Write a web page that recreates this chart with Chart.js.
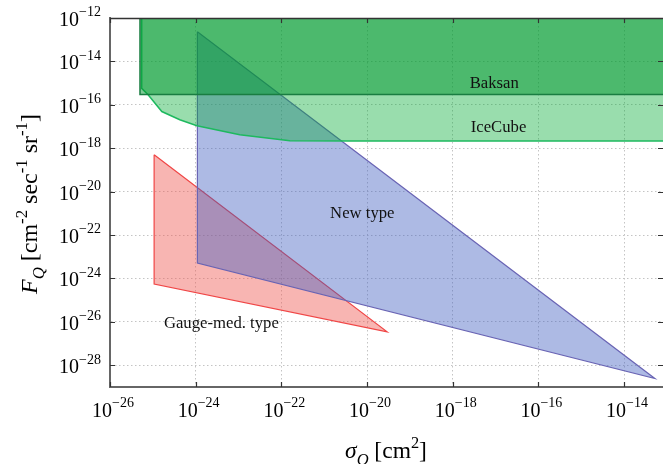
<!doctype html>
<html lang="en">
  <head>
    <meta charset="utf-8">
    <title>Flux limits vs cross section</title>
    <style>
      html, body { margin: 0; padding: 0; background: #fff; }
      .chartBox { width: 663px; height: 464px; }
    </style>
  </head>
  <body>
    <div class="chartBox">
      <canvas id="myChart"></canvas>
    </div>
    <script src="https://cdn.jsdelivr.net/npm/chart.js/dist/chart.umd.min.js"></script>
    <script>
    // everything is stored as log10 exponents, converted with 10**e below
    const xTickExp = [-26, -24, -22, -20, -18, -16, -14];
    const yTickExp = [-28, -26, -24, -22, -20, -18, -16, -14, -12];
    const xRangeExp = [-26, -13.09];
    const yRangeExp = [-29, -12];

    // Baksan limit (box up to the top of the plot)
    const baksanX = [-25.30, -12.9, -12.9, -25.30, -25.30];
    const baksanY = [-12, -12, -15.53, -15.53, -12];

    // IceCube limit
    const iceX = [-25.26, -25.26, -25.11, -24.79, -24.37, -23.97, -22.97, -21.80, -20.40, -12.9, -12.9, -25.26];
    const iceY = [-12, -15.24, -15.54, -16.31, -16.69, -16.96, -17.38, -17.65, -17.67, -17.67, -12, -12];

    // "New type" triangle
    const newX = [-23.96, -23.96, -13.28, -23.96];
    const newY = [-12.63, -23.29, -28.61, -12.63];

    // "Gauge-med. type" triangle
    const gaugeX = [-24.97, -24.97, -19.53, -24.97];
    const gaugeY = [-18.30, -24.26, -26.46, -18.30];

    // region labels: text, x exponent, y exponent
    const labelText = ['Baksan', 'IceCube', 'New type', 'Gauge-med. type'];
    const labelX = [-17.03, -16.93, -20.11, -23.40];
    const labelY = [-15.04, -17.07, -21.03, -26.10];

    function toPoints(xs, ys) {
      return xs.map((x, i) => ({ x: 10 ** x, y: 10 ** ys[i] }));
    }

    function polygon(label, xs, ys, fill, stroke, width, order) {
      return {
        label,
        data: toPoints(xs, ys),
        backgroundColor: fill,
        borderColor: stroke,
        borderWidth: width,
        fill: 'shape',
        pointRadius: 0,
        tension: 0,
        order
      };
    }

    const serif = "'Liberation Serif', 'DejaVu Serif', serif";

    // string made of pieces (italic / sub / sup); align: 'center' | 'right'
    function richWidth(ctx, parts, size) {
      let w = 0;
      parts.forEach(p => { ctx.font = fontFor(p, size); w += ctx.measureText(p.t).width; });
      return w;
    }

    function fontFor(p, size) {
      return (p.i ? 'italic ' : '') + (p.sub || p.sup ? size * 0.7 : size).toFixed(1) + 'px ' + serif;
    }

    function drawRich(ctx, parts, x, y, size, opts) {
      opts = opts || {};
      ctx.save();
      ctx.translate(x, y);
      if (opts.rotate) ctx.rotate(-Math.PI / 2);
      ctx.fillStyle = '#000';
      ctx.textBaseline = 'alphabetic';
      ctx.textAlign = 'left';
      const total = richWidth(ctx, parts, size);
      let cx = opts.align === 'right' ? -total : -total / 2;
      parts.forEach(p => {
        ctx.font = fontFor(p, size);
        let dy = 0;
        if (p.sup) dy = -size * (opts.supRaise || 0.42);
        if (p.sub) dy = size * 0.28;
        ctx.fillText(p.t, cx, dy);
        cx += ctx.measureText(p.t).width;
      });
      ctx.restore();
    }

    function powerLabel(e) {
      return [{ t: '10' }, { t: String(e).replace('-', '\u2212'), sup: 1 }];
    }

    const extras = {
      id: 'extras',
      afterDatasetsDraw(chart) {
        const { ctx, chartArea: a, scales: { x, y } } = chart;
        ctx.save();
        ctx.font = '16.7px ' + serif;
        ctx.fillStyle = '#111';
        ctx.textAlign = 'center';
        ctx.textBaseline = 'middle';
        labelText.forEach((t, i) => {
          ctx.fillText(t, x.getPixelForValue(10 ** labelX[i]), y.getPixelForValue(10 ** labelY[i]));
        });
        // inward tick marks on all four sides and the top frame line
        ctx.strokeStyle = '#333';
        ctx.lineWidth = 1.2;
        ctx.beginPath();
        xTickExp.forEach(e => {
          const px = Math.round(x.getPixelForValue(10 ** e)) + 0.5;
          ctx.moveTo(px, a.top); ctx.lineTo(px, a.top + 5);
          ctx.moveTo(px, a.bottom); ctx.lineTo(px, a.bottom - 5);
        });
        yTickExp.forEach(e => {
          const py = Math.round(y.getPixelForValue(10 ** e)) + 0.5;
          ctx.moveTo(a.left, py); ctx.lineTo(a.left + 5, py);
          ctx.moveTo(a.right, py); ctx.lineTo(a.right - 5, py);
        });
        ctx.stroke();
        ctx.beginPath();
        ctx.lineWidth = 1.5;
        ctx.moveTo(a.left, a.top + 0.5);
        ctx.lineTo(a.right, a.top + 0.5);
        ctx.stroke();
        ctx.restore();

        // tick labels 10^n with raised exponents
        xTickExp.forEach(e => {
          drawRich(ctx, powerLabel(e), x.getPixelForValue(10 ** e) + 3, a.bottom + 30, 20, { supRaise: 0.48 });
        });
        yTickExp.forEach(e => {
          drawRich(ctx, powerLabel(e), a.left - 9, y.getPixelForValue(10 ** e) + 8, 20, { align: 'right', supRaise: 0.48 });
        });

        drawRich(ctx, [{ t: 'F', i: 1 }, { t: 'Q', i: 1, sub: 1 }, { t: ' [cm' }, { t: '-2', sup: 1 },
          { t: ' sec' }, { t: '-1', sup: 1 }, { t: ' sr' }, { t: '-1', sup: 1 }, { t: ']' }], 37, 204, 24, { rotate: true });
        drawRich(ctx, [{ t: '\u03C3', i: 1 }, { t: 'Q', i: 1, sub: 1 }, { t: ' [cm' }, { t: '2', sup: 1 }, { t: ']' }],
          386, 458, 23.5);
      }
    };

    const data = {
      datasets: [
        polygon('Baksan', baksanX, baksanY, 'rgba(0,150,45,0.5)', 'rgb(25,125,65)', 1.5, 1),
        polygon('IceCube', iceX, iceY, 'rgba(0,170,50,0.4)', 'rgb(30,185,95)', 1.5, 2),
        polygon('New type', newX, newY, 'rgba(60,90,190,0.42)', 'rgb(105,100,180)', 1.2, 3),
        polygon('Gauge-med. type', gaugeX, gaugeY, 'rgba(240,90,85,0.45)', 'rgb(240,70,70)', 1.2, 4)
      ]
    };

    const config = {
      type: 'line',
      data,
      options: {
        animation: false,
        responsive: true,
        maintainAspectRatio: false,
        layout: { padding: { top: 18, right: 0, left: 0, bottom: 0 } },
        plugins: { legend: { display: false }, tooltip: { enabled: false } },
        scales: {
          x: {
            type: 'logarithmic',
            min: 10 ** xRangeExp[0],
            max: 10 ** xRangeExp[1],
            afterBuildTicks: s => { s.ticks = xTickExp.map(e => ({ value: 10 ** e })); },
            afterFit: s => { s.height = 77; },
            grid: { color: '#c4c4c4', lineWidth: 1, drawTicks: false },
            border: { display: true, color: '#666', width: 2, dash: [1.5, 2.5] },
            ticks: { display: false }
          },
          y: {
            type: 'logarithmic',
            min: 10 ** yRangeExp[0],
            max: 10 ** yRangeExp[1],
            afterBuildTicks: s => { s.ticks = yTickExp.map(e => ({ value: 10 ** e })); },
            afterFit: s => { s.width = 110; },
            grid: { color: '#c4c4c4', lineWidth: 1, drawTicks: false },
            border: { display: true, color: '#666', width: 2, dash: [1.5, 2.5] },
            ticks: { display: false }
          }
        }
      },
      plugins: [extras]
    };

    const myChart = new Chart(document.getElementById('myChart'), config);
    </script>
  </body>
</html>
